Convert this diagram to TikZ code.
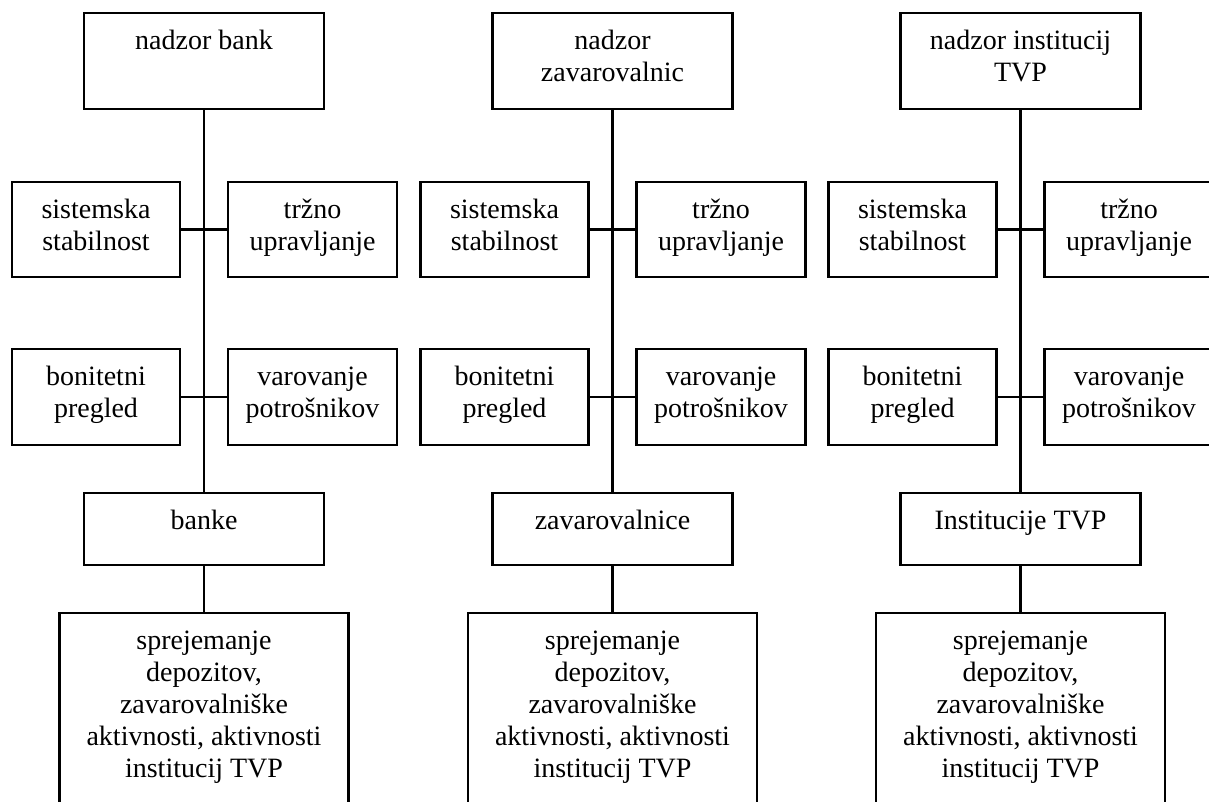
\documentclass[tikz,border=0pt]{standalone}
\usepackage{fontspec}
\setmainfont{Liberation Serif}
% box body: fixed width and height, lines centred, first baseline 27pt below the top
\newcommand\boxbody[3]{\parbox[c][#2][t]{#1}{\centering\rule{0pt}{27.5pt}#3\par}}
\tikzset{
  box/.style={draw, line width=1.6pt, inner sep=0pt,
    font=\fontsize{21pt}{24pt}\selectfont},
  link/.style={line width=1.6pt}
}
\begin{document}
\begin{tikzpicture}[x=0.75pt, y=-0.75pt]
\useasboundingbox (0,0) rectangle (1209,801);
\clip (0,0) rectangle (1209,801);

% ---------- banks ----------
\node[box] (topA) at (204,61)    {\boxbody{180pt}{72pt}{nadzor bank}};
\node[box] (sysA) at (96,229.5)  {\boxbody{126pt}{71.25pt}{sistemska\\stabilnost}};
\node[box] (mktA) at (312.5,229.5) {\boxbody{126.75pt}{71.25pt}{tržno\\upravljanje}};
\node[box] (bonA) at (96,397)    {\boxbody{126pt}{72pt}{bonitetni\\pregled}};
\node[box] (conA) at (312.5,397) {\boxbody{126.75pt}{72pt}{varovanje\\potrošnikov}};
\node[box] (midA) at (204,529)   {\boxbody{180pt}{54pt}{banke}};
\node[box] (botA) at (204,731.5) {\boxbody{216.75pt}{177.75pt}{sprejemanje\\depozitov,\\zavarovalniške\\aktivnosti, aktivnosti\\institucij TVP}};

% ---------- insurers ----------
\node[box] (topB) at (612.5,61)    {\boxbody{180pt}{72pt}{nadzor\\zavarovalnic}};
\node[box] (sysB) at (504.5,229.5) {\boxbody{126pt}{71.25pt}{sistemska\\stabilnost}};
\node[box] (mktB) at (721,229.5)   {\boxbody{126.75pt}{71.25pt}{tržno\\upravljanje}};
\node[box] (bonB) at (504.5,397)   {\boxbody{126pt}{72pt}{bonitetni\\pregled}};
\node[box] (conB) at (721,397)     {\boxbody{126.75pt}{72pt}{varovanje\\potrošnikov}};
\node[box] (midB) at (612.5,529)   {\boxbody{180pt}{54pt}{zavarovalnice}};
\node[box] (botB) at (612.5,731.5) {\boxbody{216.75pt}{177.75pt}{sprejemanje\\depozitov,\\zavarovalniške\\aktivnosti, aktivnosti\\institucij TVP}};

% ---------- securities institutions ----------
\node[box] (topC) at (1020.5,61)    {\boxbody{180pt}{72pt}{nadzor institucij\\TVP}};
\node[box] (sysC) at (912.5,229.5)  {\boxbody{126pt}{71.25pt}{sistemska\\stabilnost}};
\node[box] (mktC) at (1129,229.5)   {\boxbody{126.75pt}{71.25pt}{tržno\\upravljanje}};
\node[box] (bonC) at (912.5,397)    {\boxbody{126pt}{72pt}{bonitetni\\pregled}};
\node[box] (conC) at (1129,397)     {\boxbody{126.75pt}{72pt}{varovanje\\potrošnikov}};
\node[box] (midC) at (1020.5,529)   {\boxbody{180pt}{54pt}{Institucije TVP}};
\node[box] (botC) at (1020.5,731.5) {\boxbody{216.75pt}{177.75pt}{sprejemanje\\depozitov,\\zavarovalniške\\aktivnosti, aktivnosti\\institucij TVP}};

% ---------- connectors ----------
\foreach \c in {A,B,C}{
  \draw[link] (top\c.south) -- (mid\c.north);
  \draw[link] (mid\c.south) -- (bot\c.north);
  \draw[link] (sys\c.east) -- (mkt\c.west);
  \draw[link] (bon\c.east) -- (con\c.west);
}
\end{tikzpicture}
\end{document}
